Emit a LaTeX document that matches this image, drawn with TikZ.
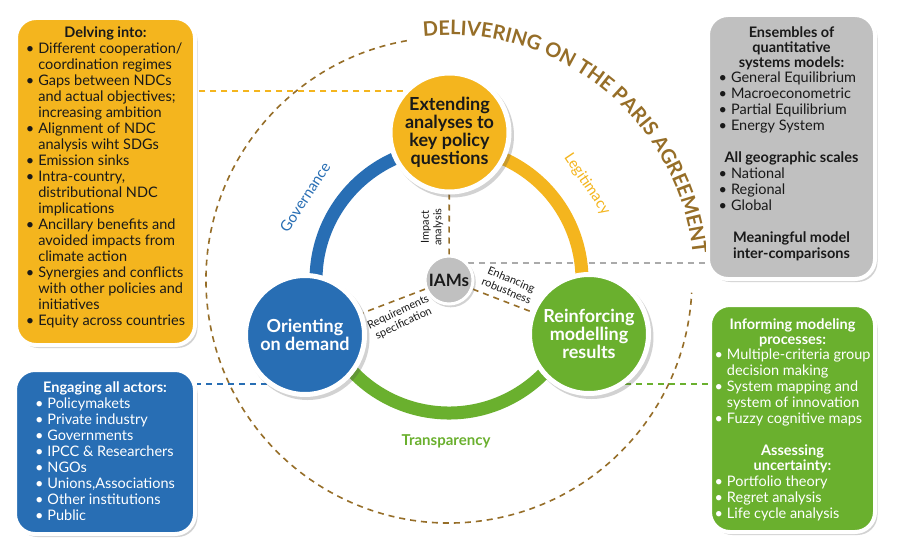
\documentclass[tikz,border=0pt]{standalone}
\usepackage{fontspec}
\setmainfont{Lato}
\usetikzlibrary{decorations.text,shadows,calc}
\pgfdeclarelayer{bg}
\pgfsetlayers{bg,main}
\definecolor{yel}{RGB}{244,181,30}
\definecolor{blu}{RGB}{40,110,180}
\definecolor{grn}{RGB}{106,176,46}
\definecolor{gry}{RGB}{192,192,192}
\definecolor{brn}{RGB}{150,110,40}
\definecolor{dgry}{RGB}{170,170,170}
\definecolor{ink}{RGB}{25,25,25}
\newcommand\myboxfont{\fontsize{14.5}{16}\selectfont}
\newcommand\mycircfont{\fontsize{18}{18}\selectfont\bfseries}
\newcommand\mysmallfont{\fontsize{11}{12.5}\selectfont}
\newcommand\mylabfont{\fontsize{15}{16}\selectfont}
\newcommand\mytitlefont{\fontsize{20}{20}\selectfont\bfseries\color{brn}}
\newcommand\bul{\textbullet}
\begin{document}
\begin{tikzpicture}[x=1pt,y=-1pt,
  infobox/.style={rectangle, rounded corners=20pt, draw=white, line width=4pt, inner sep=0pt,
    drop shadow={shadow xshift=2.5pt, shadow yshift=-3pt, opacity=0.25, fill=black!70}},
  bigcirc/.style={circle, draw=white, line width=5pt, minimum size=119pt, inner sep=0pt, align=center, font=\mycircfont,
    drop shadow={shadow xshift=2.5pt, shadow yshift=-3pt, shadow scale=1.04, opacity=0.25, fill=black!70}},
  boxtext/.style={inner sep=0pt, font=\myboxfont, anchor=north},
  connect/.style={line width=1.6pt, dash pattern=on 6pt off 5pt},
  ringarc/.style={line width=13pt},
  smalllab/.style={align=center, font=\mysmallfont, text=ink},
]
\useasboundingbox (0,0) rectangle (900,559);
\begin{pgfonlayer}{bg}
\fill[white] (0,0) rectangle (900,559);
\end{pgfonlayer}

% info boxes
\node[infobox, fill=yel, minimum width=179pt, minimum height=327pt] (tl) at (105.5,181.5) {};
\node[infobox, fill=blu, minimum width=180pt, minimum height=164pt] (bl) at (105,452) {};
\node[infobox, fill=gry, minimum width=167pt, minimum height=264pt] (tr) at (791.5,147) {};
\node[infobox, fill=grn, minimum width=165pt, minimum height=227pt] (br) at (792.5,418.5) {};

\node[boxtext, text=ink] (tltext) at (105.5,26.3) {\begin{tabular}{@{}l@{\hspace{4pt}}l@{}}
\multicolumn{2}{c}{\bfseries Delving into:}\\
\bul & Different cooperation/\\
 & coordination regimes\\
\bul & Gaps between NDCs\\
 & and actual objectives;\\
 & increasing ambition\\
\bul & Alignment of NDC\\
 & analysis wiht SDGs\\
\bul & Emission sinks\\
\bul & Intra-country,\\
 & distributional NDC\\
 & implications\\
\bul & Ancillary benefits and\\
 & avoided impacts from\\
 & climate action\\
\bul & Synergies and conflicts\\
 & with other policies and\\
 & initiatives\\
\bul & Equity across countries
\end{tabular}};

\node[boxtext, text=white] (bltext) at (105,381.3) {\begin{tabular}{@{}l@{\hspace{4pt}}l@{}}
\multicolumn{2}{c}{\bfseries Engaging all actors:}\\
\bul & Policymakets\\
\bul & Private industry\\
\bul & Governments\\
\bul & IPCC \& Researchers\\
\bul & NGOs\\
\bul & Unions,Associations\\
\bul & Other institutions\\
\bul & Public
\end{tabular}};

\node[boxtext, text=ink] (trtext) at (791.5,26.3) {\begin{tabular}{@{}l@{\hspace{4pt}}l@{}}
\multicolumn{2}{c}{\bfseries Ensembles of}\\[-1pt]
\multicolumn{2}{c}{\bfseries quantitative}\\[-1pt]
\multicolumn{2}{c}{\bfseries systems models:}\\[-1pt]
\bul & General Equilibrium\\
\bul & Macroeconometric\\
\bul & Partial Equilibrium\\
\bul & Energy System\\
\multicolumn{2}{c}{}\\
\multicolumn{2}{c}{\bfseries All geographic scales}\\
\bul & National\\
\bul & Regional\\
\bul & Global\\
\multicolumn{2}{c}{}\\
\multicolumn{2}{c}{\bfseries Meaningful model}\\
\multicolumn{2}{c}{\bfseries inter-comparisons}
\end{tabular}};

\node[boxtext, text=white] (brtext) at (792.5,318.3) {\begin{tabular}{@{}l@{\hspace{4pt}}l@{}}
\multicolumn{2}{c}{\bfseries Informing modeling}\\[-1pt]
\multicolumn{2}{c}{\bfseries processes:}\\[-1pt]
\bul & Multiple-criteria group\\
 & decision making\\
\bul & System mapping and\\
 & system of innovation\\
\bul & Fuzzy cognitive maps\\
\multicolumn{2}{c}{}\\
\multicolumn{2}{c}{\bfseries Assessing}\\[-1pt]
\multicolumn{2}{c}{\bfseries uncertainty:}\\
\bul & Portfolio theory\\
\bul & Regret analysis\\
\bul & Life cycle analysis
\end{tabular}};

% circles
\coordinate (ctr) at (449,280);
\node[bigcirc, fill=yel, text=ink] (ntop) at (449.5,132.5) {Extending\\analyses to\\key policy\\questions};
\node[bigcirc, fill=blu, text=white] (nleft) at (305,335) {Orienting\\on demand};
\node[bigcirc, fill=grn, text=white] (nright) at (589,334) {Reinforcing\\modelling\\results};
\node[circle, fill=gry, draw=white, line width=3pt, minimum size=48pt, inner sep=0pt,
  font=\fontsize{17}{17}\selectfont\bfseries, text=ink,
  drop shadow={shadow xshift=1.5pt, shadow yshift=-2pt, shadow scale=1.05, opacity=0.25, fill=black!70}] (iams) at (ctr) {IAMs};

% labels
\node[smalllab, rotate=90] (impact) at (432,227) {Impact\\analysis};
\node[smalllab, rotate=-23] (enh) at (509,285) {Enhancing\\robustness};
\node[smalllab, rotate=25] (req) at (401,318) {Requirements\\specification};
\node[rotate=57, font=\mylabfont, text=blu] (gov) at (305,197) {Governance};
\node[rotate=-56, font=\mylabfont, text=yel] (leg) at (587,184) {Legitimacy};
\node[font=\mylabfont\bfseries, text=grn] (tra) at (446,441) {Transparency};

\begin{pgfonlayer}{bg}
\draw[brn, connect] ($(ctr)+(-100:243)$) arc (-100:-357:243);
\path[decorate, decoration={text along path, text={|\mytitlefont|DELIVERING ON THE PARIS AGREEMENT}, text align={fit to path}}]
  ($(ctr)+(-96:245)$) arc (-96:-7:245);
\draw[dgry, connect] (iams.42) -- (iams.42 -| tr.west);
\draw[blu, ringarc] ($(ctr)+(-90:133)$) arc (-90:-210:133);
\draw[grn, ringarc] ($(ctr)+(-210:133)$) arc (-210:-330:133);
\draw[yel, ringarc] ($(ctr)+(-330:133)$) arc (-330:-450:133);
\draw[brn, connect] (iams) -- (ntop);
\draw[brn, connect] (iams) -- (nleft);
\draw[brn, connect] (iams) -- (nright);
\draw[yel, connect] (ntop.138) -- (ntop.138 -| tl.east);
\draw[blu, connect] (nleft.232) -- (nleft.232 -| bl.east);
\draw[grn, connect] (nright.306) -- (nright.306 -| br.west);
\end{pgfonlayer}
\end{tikzpicture}
\end{document}
